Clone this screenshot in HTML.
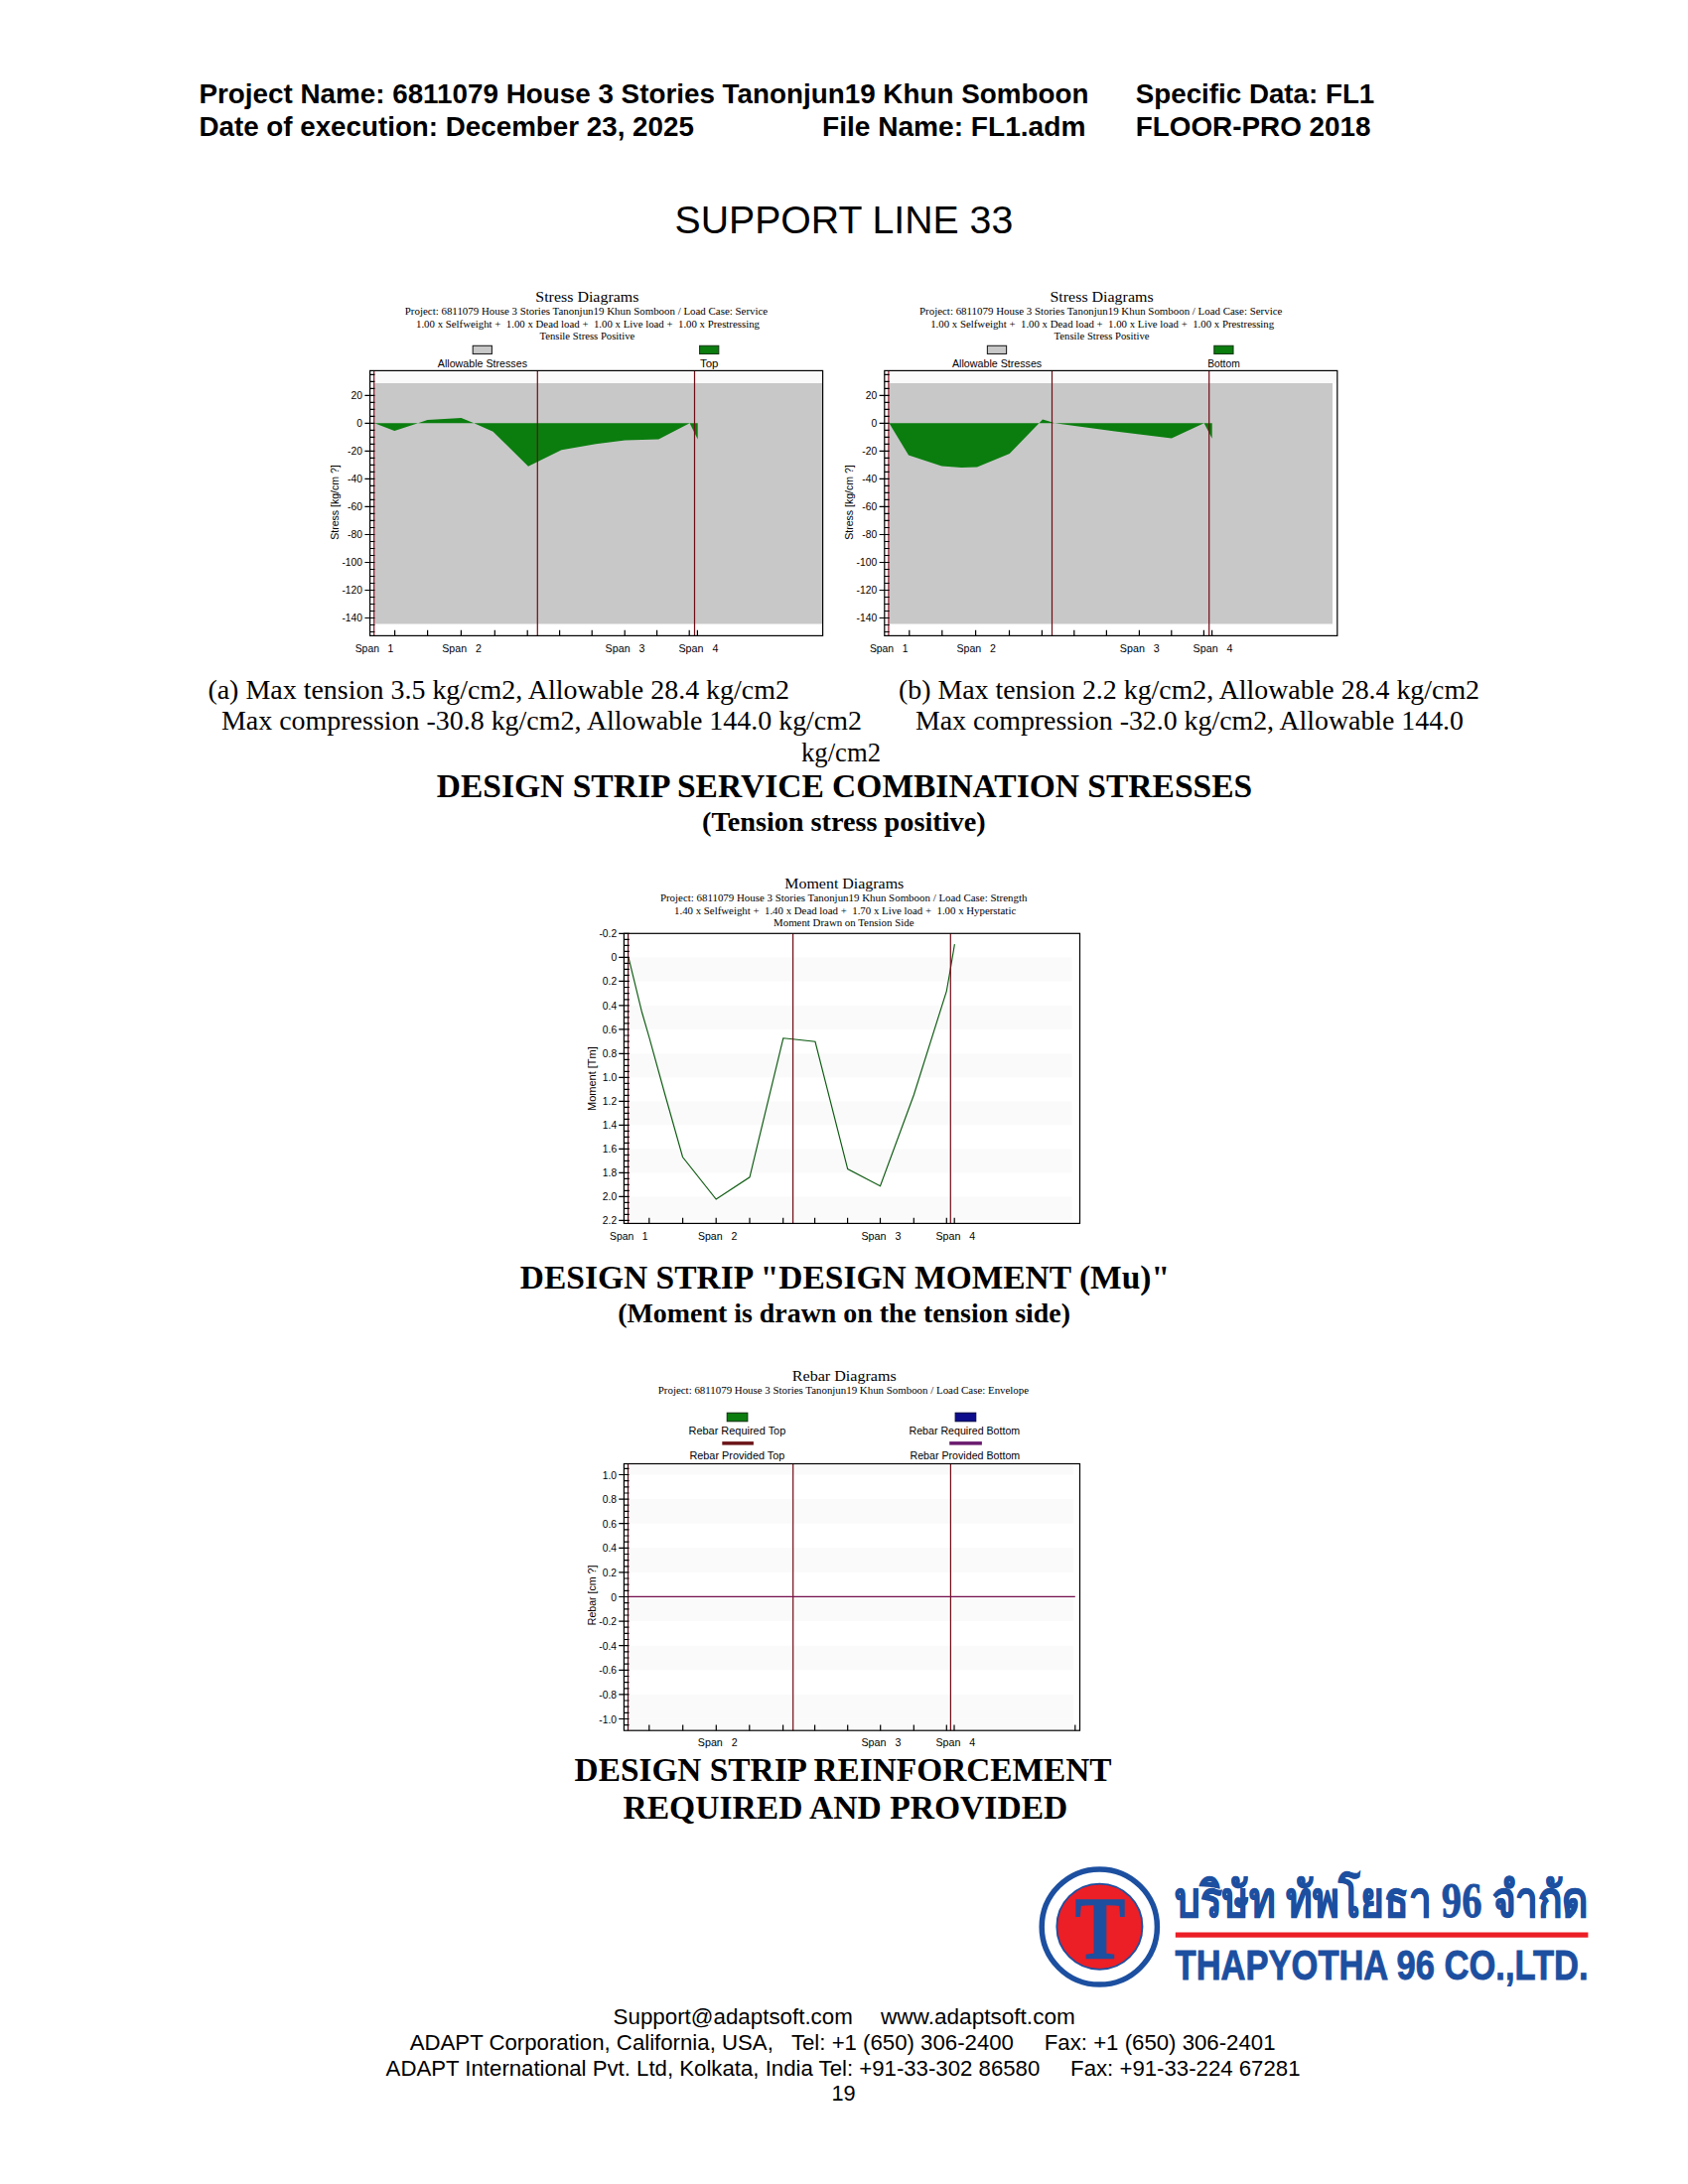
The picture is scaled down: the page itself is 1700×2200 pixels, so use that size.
<!DOCTYPE html>
<html lang="en">
<head>
<meta charset="utf-8">
<title>SUPPORT LINE 33 - FLOOR-PRO 2018 report page 19</title>
<style>
html,body{margin:0;padding:0;background:#fff;}
body{width:1700px;height:2200px;overflow:hidden;position:relative;}
svg{display:block;position:absolute;left:0;top:0;}
text{white-space:pre;}

.s{font-family:"Liberation Sans", Arial, Helvetica, sans-serif;}
.r{font-family:"Liberation Serif", "Times New Roman", Times, serif;}
.th{font-family:"Liberation Serif","Noto Serif CJK SC",serif;}
</style>
</head>
<body>
<svg width="1700" height="2200" viewBox="0 0 1700 2200">
<rect width="1700" height="2200" fill="#fff"/>
<g id="header">
<text class="s" x="200.4" y="104.4" font-size="27.6" font-weight="bold" textLength="896.0" lengthAdjust="spacingAndGlyphs" xml:space="preserve">Project Name: 6811079 House 3 Stories Tanonjun19 Khun Somboon</text>
<text class="s" x="1143.8" y="104.4" font-size="27.6" font-weight="bold" textLength="240.5" lengthAdjust="spacingAndGlyphs" xml:space="preserve">Specific Data: FL1</text>
<text class="s" x="200.4" y="136.7" font-size="27.6" font-weight="bold" textLength="498.5" lengthAdjust="spacingAndGlyphs" xml:space="preserve">Date of execution: December 23, 2025</text>
<text class="s" x="828.0" y="136.7" font-size="27.6" font-weight="bold" textLength="265.4" lengthAdjust="spacingAndGlyphs" xml:space="preserve">File Name: FL1.adm</text>
<text class="s" x="1143.8" y="136.7" font-size="27.6" font-weight="bold" textLength="236.7" lengthAdjust="spacingAndGlyphs" xml:space="preserve">FLOOR-PRO 2018</text>
<text class="s" x="679.6" y="235.2" font-size="38.7" textLength="340.6" lengthAdjust="spacingAndGlyphs" xml:space="preserve">SUPPORT LINE 33</text>
</g>
<g id="stress0">
<text class="r" x="539.3" y="303.5" font-size="15.5" textLength="104.1" lengthAdjust="spacingAndGlyphs" xml:space="preserve">Stress Diagrams</text>
<text class="r" x="407.8" y="317.0" font-size="11.2" textLength="365.4" lengthAdjust="spacingAndGlyphs" xml:space="preserve">Project: 6811079 House 3 Stories Tanonjun19 Khun Somboon / Load Case: Service</text>
<text class="r" x="419.0" y="330.0" font-size="11.2" textLength="346.0" lengthAdjust="spacingAndGlyphs" xml:space="preserve">1.00 x Selfweight +  1.00 x Dead load +  1.00 x Live load +  1.00 x Prestressing</text>
<text class="r" x="543.4" y="341.9" font-size="11.2" textLength="95.9" lengthAdjust="spacingAndGlyphs" xml:space="preserve">Tensile Stress Positive</text>
<rect x="476.2" y="348.3" width="19.2" height="8.2" fill="#c8c8c8" stroke="#222" stroke-width="1.1"/>
<text class="s" x="440.8" y="369.6" font-size="10.4" textLength="90.2" lengthAdjust="spacingAndGlyphs" xml:space="preserve">Allowable Stresses</text>
<rect x="704.6" y="348.3" width="19.2" height="8.2" fill="#0a7d0e" stroke="#143c14" stroke-width="1.1"/>
<text class="s" x="705.0" y="369.6" font-size="10.4" textLength="18.5" lengthAdjust="spacingAndGlyphs" xml:space="preserve">Top</text>
<rect x="372.6" y="373.4" width="456.0" height="267.0" fill="#fff"/>
<rect x="376.7" y="373.4" width="451.9" height="12.6" fill="#fafafa"/>
<rect x="376.7" y="386.0" width="451.9" height="242.5" fill="#c8c8c8"/>
<polygon points="377.1,426.3 397.3,434.0 421.0,426.3 430.5,422.9 464.5,420.9 477.3,426.3 496.5,434.7 532.0,469.8 565.5,453.2 600.0,447.2 629.5,443.6 663.3,442.6 694.6,426.3 702.7,442.5 702.7,426.3" fill="#0a7d0e"/>
<line x1="541.3" y1="373.4" x2="541.3" y2="640.4" stroke="#700c16" stroke-width="1.2"/>
<line x1="699.5" y1="373.4" x2="699.5" y2="640.4" stroke="#700c16" stroke-width="1.2"/>
<line x1="376.7" y1="373.4" x2="376.7" y2="640.4" stroke="#8a1224" stroke-width="1.2"/>
<path d="M372.6 377.4H377.4M372.6 384.4H377.4M372.6 391.4H377.4M367.4 398.4H377.4M372.6 405.4H377.4M372.6 412.4H377.4M372.6 419.4H377.4M367.4 426.4H377.4M372.6 433.4H377.4M372.6 440.4H377.4M372.6 447.4H377.4M367.4 454.4H377.4M372.6 461.4H377.4M372.6 468.4H377.4M372.6 475.4H377.4M367.4 482.4H377.4M372.6 489.4H377.4M372.6 496.4H377.4M372.6 503.4H377.4M367.4 510.4H377.4M372.6 517.4H377.4M372.6 524.4H377.4M372.6 531.5H377.4M367.4 538.5H377.4M372.6 545.5H377.4M372.6 552.5H377.4M372.6 559.5H377.4M367.4 566.5H377.4M372.6 573.5H377.4M372.6 580.5H377.4M372.6 587.5H377.4M367.4 594.5H377.4M372.6 601.5H377.4M372.6 608.5H377.4M372.6 615.5H377.4M367.4 622.5H377.4M372.6 629.5H377.4M372.6 636.5H377.4" stroke="#000" stroke-width="1.2" fill="none"/>
<path d="M397.6 640.4V634.8M430.6 640.4V634.8M464.4 640.4V634.8M498.3 640.4V634.8M531.2 640.4V634.8M563.6 640.4V634.8M596.2 640.4V634.8M629.2 640.4V634.8M661.6 640.4V634.8M694.2 640.4V634.8M702.4 640.4V634.8" stroke="#000" stroke-width="1.2" fill="none"/>
<rect x="372.6" y="373.4" width="456.0" height="267.0" fill="none" stroke="#000" stroke-width="1.2"/>
<text class="s" x="365.0" y="402.2" font-size="10.3" text-anchor="end" xml:space="preserve">20</text>
<text class="s" x="365.0" y="430.2" font-size="10.3" text-anchor="end" xml:space="preserve">0</text>
<text class="s" x="365.0" y="458.2" font-size="10.3" text-anchor="end" xml:space="preserve">-20</text>
<text class="s" x="365.0" y="486.2" font-size="10.3" text-anchor="end" xml:space="preserve">-40</text>
<text class="s" x="365.0" y="514.2" font-size="10.3" text-anchor="end" xml:space="preserve">-60</text>
<text class="s" x="365.0" y="542.3" font-size="10.3" text-anchor="end" xml:space="preserve">-80</text>
<text class="s" x="365.0" y="570.3" font-size="10.3" text-anchor="end" xml:space="preserve">-100</text>
<text class="s" x="365.0" y="598.3" font-size="10.3" text-anchor="end" xml:space="preserve">-120</text>
<text class="s" x="365.0" y="626.3" font-size="10.3" text-anchor="end" xml:space="preserve">-140</text>
<text class="s" x="340.9" y="543.8" font-size="10.3" textLength="75.6" lengthAdjust="spacingAndGlyphs" transform="rotate(-90 340.9 543.8)" xml:space="preserve">Stress [kg/cm ?]</text>
<text class="s" x="357.7" y="656.9" font-size="10.3" textLength="38.7" lengthAdjust="spacingAndGlyphs" xml:space="preserve">Span   1</text>
<text class="s" x="445.3" y="656.9" font-size="10.3" textLength="39.5" lengthAdjust="spacingAndGlyphs" xml:space="preserve">Span   2</text>
<text class="s" x="609.6" y="656.9" font-size="10.3" textLength="40.0" lengthAdjust="spacingAndGlyphs" xml:space="preserve">Span   3</text>
<text class="s" x="683.4" y="656.9" font-size="10.3" textLength="40.0" lengthAdjust="spacingAndGlyphs" xml:space="preserve">Span   4</text>
</g>
<g id="stress518">
<text class="r" x="1057.5" y="303.5" font-size="15.5" textLength="104.1" lengthAdjust="spacingAndGlyphs" xml:space="preserve">Stress Diagrams</text>
<text class="r" x="926.0" y="317.0" font-size="11.2" textLength="365.4" lengthAdjust="spacingAndGlyphs" xml:space="preserve">Project: 6811079 House 3 Stories Tanonjun19 Khun Somboon / Load Case: Service</text>
<text class="r" x="937.2" y="330.0" font-size="11.2" textLength="346.0" lengthAdjust="spacingAndGlyphs" xml:space="preserve">1.00 x Selfweight +  1.00 x Dead load +  1.00 x Live load +  1.00 x Prestressing</text>
<text class="r" x="1061.6" y="341.9" font-size="11.2" textLength="95.9" lengthAdjust="spacingAndGlyphs" xml:space="preserve">Tensile Stress Positive</text>
<rect x="994.4" y="348.3" width="19.2" height="8.2" fill="#c8c8c8" stroke="#222" stroke-width="1.1"/>
<text class="s" x="959.0" y="369.6" font-size="10.4" textLength="90.2" lengthAdjust="spacingAndGlyphs" xml:space="preserve">Allowable Stresses</text>
<rect x="1222.8" y="348.3" width="19.2" height="8.2" fill="#0a7d0e" stroke="#143c14" stroke-width="1.1"/>
<text class="s" x="1216.2" y="369.6" font-size="10.4" textLength="32.5" lengthAdjust="spacingAndGlyphs" xml:space="preserve">Bottom</text>
<rect x="890.8" y="373.4" width="456.0" height="267.0" fill="#fff"/>
<rect x="894.9" y="373.4" width="451.9" height="12.6" fill="#fafafa"/>
<rect x="894.9" y="386.0" width="447.1" height="242.5" fill="#c8c8c8"/>
<polygon points="895.5,426.3 915.0,458.4 948.4,469.5 968.3,470.9 984.0,470.6 1016.7,457.1 1046.5,426.3 1050.0,422.6 1059.3,425.2 1062.0,426.3 1123.0,434.5 1179.9,441.5 1212.6,426.3 1220.7,441.8 1220.7,426.3" fill="#0a7d0e"/>
<line x1="1059.5" y1="373.4" x2="1059.5" y2="640.4" stroke="#700c16" stroke-width="1.2"/>
<line x1="1217.7" y1="373.4" x2="1217.7" y2="640.4" stroke="#700c16" stroke-width="1.2"/>
<line x1="894.9" y1="373.4" x2="894.9" y2="640.4" stroke="#8a1224" stroke-width="1.2"/>
<path d="M890.8 377.4H895.6M890.8 384.4H895.6M890.8 391.4H895.6M885.6 398.4H895.6M890.8 405.4H895.6M890.8 412.4H895.6M890.8 419.4H895.6M885.6 426.4H895.6M890.8 433.4H895.6M890.8 440.4H895.6M890.8 447.4H895.6M885.6 454.4H895.6M890.8 461.4H895.6M890.8 468.4H895.6M890.8 475.4H895.6M885.6 482.4H895.6M890.8 489.4H895.6M890.8 496.4H895.6M890.8 503.4H895.6M885.6 510.4H895.6M890.8 517.4H895.6M890.8 524.4H895.6M890.8 531.5H895.6M885.6 538.5H895.6M890.8 545.5H895.6M890.8 552.5H895.6M890.8 559.5H895.6M885.6 566.5H895.6M890.8 573.5H895.6M890.8 580.5H895.6M890.8 587.5H895.6M885.6 594.5H895.6M890.8 601.5H895.6M890.8 608.5H895.6M890.8 615.5H895.6M885.6 622.5H895.6M890.8 629.5H895.6M890.8 636.5H895.6" stroke="#000" stroke-width="1.2" fill="none"/>
<path d="M915.8 640.4V634.8M948.8 640.4V634.8M982.6 640.4V634.8M1016.5 640.4V634.8M1049.4 640.4V634.8M1081.8 640.4V634.8M1114.4 640.4V634.8M1147.4 640.4V634.8M1179.8 640.4V634.8M1212.4 640.4V634.8M1220.6 640.4V634.8" stroke="#000" stroke-width="1.2" fill="none"/>
<rect x="890.8" y="373.4" width="456.0" height="267.0" fill="none" stroke="#000" stroke-width="1.2"/>
<text class="s" x="883.2" y="402.2" font-size="10.3" text-anchor="end" xml:space="preserve">20</text>
<text class="s" x="883.2" y="430.2" font-size="10.3" text-anchor="end" xml:space="preserve">0</text>
<text class="s" x="883.2" y="458.2" font-size="10.3" text-anchor="end" xml:space="preserve">-20</text>
<text class="s" x="883.2" y="486.2" font-size="10.3" text-anchor="end" xml:space="preserve">-40</text>
<text class="s" x="883.2" y="514.2" font-size="10.3" text-anchor="end" xml:space="preserve">-60</text>
<text class="s" x="883.2" y="542.3" font-size="10.3" text-anchor="end" xml:space="preserve">-80</text>
<text class="s" x="883.2" y="570.3" font-size="10.3" text-anchor="end" xml:space="preserve">-100</text>
<text class="s" x="883.2" y="598.3" font-size="10.3" text-anchor="end" xml:space="preserve">-120</text>
<text class="s" x="883.2" y="626.3" font-size="10.3" text-anchor="end" xml:space="preserve">-140</text>
<text class="s" x="859.1" y="543.8" font-size="10.3" textLength="75.6" lengthAdjust="spacingAndGlyphs" transform="rotate(-90 859.1 543.8)" xml:space="preserve">Stress [kg/cm ?]</text>
<text class="s" x="875.9" y="656.9" font-size="10.3" textLength="38.7" lengthAdjust="spacingAndGlyphs" xml:space="preserve">Span   1</text>
<text class="s" x="963.5" y="656.9" font-size="10.3" textLength="39.5" lengthAdjust="spacingAndGlyphs" xml:space="preserve">Span   2</text>
<text class="s" x="1127.8" y="656.9" font-size="10.3" textLength="40.0" lengthAdjust="spacingAndGlyphs" xml:space="preserve">Span   3</text>
<text class="s" x="1201.6" y="656.9" font-size="10.3" textLength="40.0" lengthAdjust="spacingAndGlyphs" xml:space="preserve">Span   4</text>
</g>
<g id="captions">
<text class="r" x="209.4" y="703.5" font-size="27.78" textLength="585.6" lengthAdjust="spacingAndGlyphs" xml:space="preserve">(a) Max tension 3.5 kg/cm2, Allowable 28.4 kg/cm2</text>
<text class="r" x="223.0" y="735.0" font-size="27.78" textLength="645.0" lengthAdjust="spacingAndGlyphs" xml:space="preserve">Max compression -30.8 kg/cm2, Allowable 144.0 kg/cm2</text>
<text class="r" x="807.0" y="767.0" font-size="27.78" textLength="80.0" lengthAdjust="spacingAndGlyphs" xml:space="preserve">kg/cm2</text>
<text class="r" x="905.0" y="703.5" font-size="27.78" textLength="585.0" lengthAdjust="spacingAndGlyphs" xml:space="preserve">(b) Max tension 2.2 kg/cm2, Allowable 28.4 kg/cm2</text>
<text class="r" x="922.0" y="735.0" font-size="27.78" textLength="552.0" lengthAdjust="spacingAndGlyphs" xml:space="preserve">Max compression -32.0 kg/cm2, Allowable 144.0</text>
<text class="r" x="439.8" y="803.2" font-size="33.33" font-weight="bold" textLength="821.4" lengthAdjust="spacingAndGlyphs" xml:space="preserve">DESIGN STRIP SERVICE COMBINATION STRESSES</text>
<text class="r" x="707.0" y="836.6" font-size="27.78" font-weight="bold" textLength="285.6" lengthAdjust="spacingAndGlyphs" xml:space="preserve">(Tension stress positive)</text>
<text class="r" x="523.8" y="1298.2" font-size="33.33" font-weight="bold" textLength="654.2" lengthAdjust="spacingAndGlyphs" xml:space="preserve">DESIGN STRIP "DESIGN MOMENT (Mu)"</text>
<text class="r" x="622.2" y="1331.7" font-size="27.78" font-weight="bold" textLength="455.8" lengthAdjust="spacingAndGlyphs" xml:space="preserve">(Moment is drawn on the tension side)</text>
<text class="r" x="578.6" y="1794.0" font-size="33.33" font-weight="bold" textLength="541.0" lengthAdjust="spacingAndGlyphs" xml:space="preserve">DESIGN STRIP REINFORCEMENT</text>
<text class="r" x="627.4" y="1832.1" font-size="33.33" font-weight="bold" textLength="448.0" lengthAdjust="spacingAndGlyphs" xml:space="preserve">REQUIRED AND PROVIDED</text>
</g>
<g id="moment">
<text class="r" x="790.3" y="895.0" font-size="15.5" textLength="120.0" lengthAdjust="spacingAndGlyphs" xml:space="preserve">Moment Diagrams</text>
<text class="r" x="664.9" y="908.4" font-size="11.2" textLength="369.5" lengthAdjust="spacingAndGlyphs" xml:space="preserve">Project: 6811079 House 3 Stories Tanonjun19 Khun Somboon / Load Case: Strength</text>
<text class="r" x="679.0" y="921.2" font-size="11.2" textLength="344.2" lengthAdjust="spacingAndGlyphs" xml:space="preserve">1.40 x Selfweight +  1.40 x Dead load +  1.70 x Live load +  1.00 x Hyperstatic</text>
<text class="r" x="779.1" y="933.3" font-size="11.2" textLength="141.4" lengthAdjust="spacingAndGlyphs" xml:space="preserve">Moment Drawn on Tension Side</text>
<rect x="628.4" y="940.3" width="459.1" height="292.1" fill="#fff"/>
<rect x="632.6" y="964.4" width="446.9" height="24.0" fill="#fafafa"/>
<rect x="632.6" y="1012.9" width="446.9" height="24.0" fill="#fafafa"/>
<rect x="632.6" y="1061.4" width="446.9" height="24.0" fill="#fafafa"/>
<rect x="632.6" y="1109.4" width="446.9" height="24.0" fill="#fafafa"/>
<rect x="632.6" y="1157.4" width="446.9" height="24.0" fill="#fafafa"/>
<rect x="632.6" y="1205.4" width="446.9" height="24.0" fill="#fafafa"/>
<rect x="632.6" y="1229.4" width="446.9" height="3.0" fill="#fff"/>
<polyline points="633.0,964.4 646.3,1019.0 653.8,1044.8 670.0,1103.5 687.5,1165.5 721.2,1208.0 755.0,1185.8 788.8,1045.8 798.5,1046.8 821.0,1049.3 853.7,1177.6 886.5,1194.8 920.3,1103.0 953.3,998.3 957.3,975.5 961.4,951.2" fill="none" stroke="#0c5a10" stroke-width="1.15"/>
<line x1="798.6" y1="940.3" x2="798.6" y2="1232.4" stroke="#700c16" stroke-width="1.2"/>
<line x1="957.3" y1="940.3" x2="957.3" y2="1232.4" stroke="#700c16" stroke-width="1.2"/>
<line x1="632.6" y1="940.3" x2="632.6" y2="1232.4" stroke="#5e0a18" stroke-width="1.2"/>
<path d="M623.2 940.3H633.8M628.4 946.3H633.8M628.4 952.3H633.8M628.4 958.4H633.8M623.2 964.4H633.8M628.4 970.4H633.8M628.4 976.4H633.8M628.4 982.4H633.8M623.2 988.4H633.8M628.4 994.5H633.8M628.4 1000.6H633.8M628.4 1006.8H633.8M623.2 1012.9H633.8M628.4 1018.9H633.8M628.4 1024.9H633.8M628.4 1030.9H633.8M623.2 1036.9H633.8M628.4 1043.0H633.8M628.4 1049.2H633.8M628.4 1055.3H633.8M623.2 1061.4H633.8M628.4 1067.4H633.8M628.4 1073.4H633.8M628.4 1079.4H633.8M623.2 1085.4H633.8M628.4 1091.4H633.8M628.4 1097.4H633.8M628.4 1103.4H633.8M623.2 1109.4H633.8M628.4 1115.4H633.8M628.4 1121.4H633.8M628.4 1127.4H633.8M623.2 1133.4H633.8M628.4 1139.4H633.8M628.4 1145.4H633.8M628.4 1151.4H633.8M623.2 1157.4H633.8M628.4 1163.4H633.8M628.4 1169.4H633.8M628.4 1175.4H633.8M623.2 1181.4H633.8M628.4 1187.4H633.8M628.4 1193.4H633.8M628.4 1199.4H633.8M623.2 1205.4H633.8M628.4 1211.4H633.8M628.4 1217.4H633.8M628.4 1223.4H633.8M623.2 1229.4H633.8" stroke="#000" stroke-width="1.2" fill="none"/>
<path d="M653.8 1232.4V1226.8M687.6 1232.4V1226.8M721.2 1232.4V1226.8M755.0 1232.4V1226.8M788.7 1232.4V1226.8M820.6 1232.4V1226.8M853.6 1232.4V1226.8M886.5 1232.4V1226.8M920.3 1232.4V1226.8M953.3 1232.4V1226.8M961.2 1232.4V1226.8" stroke="#000" stroke-width="1.2" fill="none"/>
<rect x="628.4" y="940.3" width="459.1" height="292.1" fill="none" stroke="#000" stroke-width="1.2"/>
<text class="s" x="621.2" y="944.1" font-size="10.3" text-anchor="end" xml:space="preserve">-0.2</text>
<text class="s" x="621.2" y="968.2" font-size="10.3" text-anchor="end" xml:space="preserve">0</text>
<text class="s" x="621.2" y="992.2" font-size="10.3" text-anchor="end" xml:space="preserve">0.2</text>
<text class="s" x="621.2" y="1016.7" font-size="10.3" text-anchor="end" xml:space="preserve">0.4</text>
<text class="s" x="621.2" y="1040.7" font-size="10.3" text-anchor="end" xml:space="preserve">0.6</text>
<text class="s" x="621.2" y="1065.2" font-size="10.3" text-anchor="end" xml:space="preserve">0.8</text>
<text class="s" x="621.2" y="1089.2" font-size="10.3" text-anchor="end" xml:space="preserve">1.0</text>
<text class="s" x="621.2" y="1113.2" font-size="10.3" text-anchor="end" xml:space="preserve">1.2</text>
<text class="s" x="621.2" y="1137.2" font-size="10.3" text-anchor="end" xml:space="preserve">1.4</text>
<text class="s" x="621.2" y="1161.2" font-size="10.3" text-anchor="end" xml:space="preserve">1.6</text>
<text class="s" x="621.2" y="1185.2" font-size="10.3" text-anchor="end" xml:space="preserve">1.8</text>
<text class="s" x="621.2" y="1209.2" font-size="10.3" text-anchor="end" xml:space="preserve">2.0</text>
<text class="s" x="621.2" y="1233.2" font-size="10.3" text-anchor="end" xml:space="preserve">2.2</text>
<text class="s" x="600.2" y="1118.9" font-size="10.3" textLength="64.7" lengthAdjust="spacingAndGlyphs" transform="rotate(-90 600.2 1118.9)" xml:space="preserve">Moment [Tm]</text>
<text class="s" x="614.0" y="1248.6" font-size="10.3" textLength="38.5" lengthAdjust="spacingAndGlyphs" xml:space="preserve">Span   1</text>
<text class="s" x="702.9" y="1248.6" font-size="10.3" textLength="39.4" lengthAdjust="spacingAndGlyphs" xml:space="preserve">Span   2</text>
<text class="s" x="867.4" y="1248.6" font-size="10.3" textLength="40.0" lengthAdjust="spacingAndGlyphs" xml:space="preserve">Span   3</text>
<text class="s" x="942.5" y="1248.6" font-size="10.3" textLength="39.7" lengthAdjust="spacingAndGlyphs" xml:space="preserve">Span   4</text>
</g>
<g id="rebar">
<text class="r" x="797.8" y="1391.0" font-size="15.5" textLength="104.9" lengthAdjust="spacingAndGlyphs" xml:space="preserve">Rebar Diagrams</text>
<text class="r" x="662.8" y="1404.1" font-size="11.2" textLength="373.3" lengthAdjust="spacingAndGlyphs" xml:space="preserve">Project: 6811079 House 3 Stories Tanonjun19 Khun Somboon / Load Case: Envelope</text>
<rect x="732.3" y="1423.3" width="20.5" height="8.4" fill="#0a7d0e" stroke="#143c14" stroke-width="1.2"/>
<text class="s" x="693.5" y="1445.0" font-size="10.4" textLength="97.8" lengthAdjust="spacingAndGlyphs" xml:space="preserve">Rebar Required Top</text>
<rect x="727.3" y="1452.1" width="31.6" height="3.5" fill="#6b1418"/>
<text class="s" x="694.4" y="1469.9" font-size="10.4" textLength="96.0" lengthAdjust="spacingAndGlyphs" xml:space="preserve">Rebar Provided Top</text>
<rect x="962.2" y="1423.3" width="20.5" height="8.4" fill="#0c0c8c" stroke="#0a0a50" stroke-width="1.2"/>
<text class="s" x="915.5" y="1445.0" font-size="10.4" textLength="111.7" lengthAdjust="spacingAndGlyphs" xml:space="preserve">Rebar Required Bottom</text>
<rect x="956.2" y="1452.1" width="32.7" height="3.5" fill="#6a1a6e"/>
<text class="s" x="916.5" y="1469.9" font-size="10.4" textLength="110.7" lengthAdjust="spacingAndGlyphs" xml:space="preserve">Rebar Provided Bottom</text>
<rect x="628.4" y="1474.5" width="459.1" height="268.7" fill="#fff"/>
<rect x="632.5" y="1476.0" width="448.5" height="9.5" fill="#fafafa"/>
<rect x="632.5" y="1510.1" width="448.5" height="24.6" fill="#fafafa"/>
<rect x="632.5" y="1559.3" width="448.5" height="24.6" fill="#fafafa"/>
<rect x="632.5" y="1608.5" width="448.5" height="24.6" fill="#fafafa"/>
<rect x="632.5" y="1657.7" width="448.5" height="24.6" fill="#fafafa"/>
<rect x="632.5" y="1706.9" width="448.5" height="24.6" fill="#fafafa"/>
<rect x="632.5" y="1731.5" width="448.5" height="11.7" fill="#fafafa"/>
<line x1="798.7" y1="1474.5" x2="798.7" y2="1743.2" stroke="#700c16" stroke-width="1.2"/>
<line x1="957.4" y1="1474.5" x2="957.4" y2="1743.2" stroke="#700c16" stroke-width="1.2"/>
<line x1="632.5" y1="1474.5" x2="632.5" y2="1743.2" stroke="#5e0a18" stroke-width="1.2"/>
<line x1="632.5" y1="1608.4" x2="1082.8" y2="1608.4" stroke="#74104e" stroke-width="1.3"/>
<path d="M628.4 1479.3H633.5M623.2 1485.5H633.5M628.4 1491.7H633.5M628.4 1497.8H633.5M628.4 1504.0H633.5M623.2 1510.1H633.5M628.4 1516.2H633.5M628.4 1522.4H633.5M628.4 1528.5H633.5M623.2 1534.7H633.5M628.4 1540.8H633.5M628.4 1547.0H633.5M628.4 1553.2H633.5M623.2 1559.3H633.5M628.4 1565.5H633.5M628.4 1571.6H633.5M628.4 1577.8H633.5M623.2 1583.9H633.5M628.4 1590.0H633.5M628.4 1596.2H633.5M628.4 1602.3H633.5M623.2 1608.5H633.5M628.4 1614.7H633.5M628.4 1620.8H633.5M628.4 1627.0H633.5M623.2 1633.1H633.5M628.4 1639.2H633.5M628.4 1645.4H633.5M628.4 1651.5H633.5M623.2 1657.7H633.5M628.4 1663.8H633.5M628.4 1670.0H633.5M628.4 1676.2H633.5M623.2 1682.3H633.5M628.4 1688.5H633.5M628.4 1694.6H633.5M628.4 1700.8H633.5M623.2 1706.9H633.5M628.4 1713.0H633.5M628.4 1719.2H633.5M628.4 1725.3H633.5M623.2 1731.5H633.5M628.4 1737.7H633.5" stroke="#000" stroke-width="1.2" fill="none"/>
<path d="M653.8 1743.2V1737.6M687.7 1743.2V1737.6M721.3 1743.2V1737.6M754.8 1743.2V1737.6M788.6 1743.2V1737.6M820.6 1743.2V1737.6M853.7 1743.2V1737.6M886.7 1743.2V1737.6M920.3 1743.2V1737.6M953.3 1743.2V1737.6M961.0 1743.2V1737.6M1082.8 1743.2V1737.6" stroke="#000" stroke-width="1.2" fill="none"/>
<rect x="628.4" y="1474.5" width="459.1" height="268.7" fill="none" stroke="#000" stroke-width="1.2"/>
<text class="s" x="621.0" y="1489.5" font-size="10.3" text-anchor="end" xml:space="preserve">1.0</text>
<text class="s" x="621.0" y="1514.1" font-size="10.3" text-anchor="end" xml:space="preserve">0.8</text>
<text class="s" x="621.0" y="1538.7" font-size="10.3" text-anchor="end" xml:space="preserve">0.6</text>
<text class="s" x="621.0" y="1563.3" font-size="10.3" text-anchor="end" xml:space="preserve">0.4</text>
<text class="s" x="621.0" y="1587.9" font-size="10.3" text-anchor="end" xml:space="preserve">0.2</text>
<text class="s" x="621.0" y="1612.5" font-size="10.3" text-anchor="end" xml:space="preserve">0</text>
<text class="s" x="621.0" y="1637.1" font-size="10.3" text-anchor="end" xml:space="preserve">-0.2</text>
<text class="s" x="621.0" y="1661.7" font-size="10.3" text-anchor="end" xml:space="preserve">-0.4</text>
<text class="s" x="621.0" y="1686.3" font-size="10.3" text-anchor="end" xml:space="preserve">-0.6</text>
<text class="s" x="621.0" y="1710.9" font-size="10.3" text-anchor="end" xml:space="preserve">-0.8</text>
<text class="s" x="621.0" y="1735.5" font-size="10.3" text-anchor="end" xml:space="preserve">-1.0</text>
<text class="s" x="600.2" y="1637.2" font-size="10.3" textLength="60.6" lengthAdjust="spacingAndGlyphs" transform="rotate(-90 600.2 1637.2)" xml:space="preserve">Rebar [cm ?]</text>
<text class="s" x="702.8" y="1759.3" font-size="10.3" textLength="39.9" lengthAdjust="spacingAndGlyphs" xml:space="preserve">Span   2</text>
<text class="s" x="867.4" y="1759.3" font-size="10.3" textLength="40.0" lengthAdjust="spacingAndGlyphs" xml:space="preserve">Span   3</text>
<text class="s" x="942.5" y="1759.3" font-size="10.3" textLength="39.7" lengthAdjust="spacingAndGlyphs" xml:space="preserve">Span   4</text>
</g>
<g id="logo">
<circle cx="1107.3" cy="1941.0" r="58.1" fill="#fff" stroke="#1c4fa0" stroke-width="5.5"/>
<circle cx="1107.4" cy="1940.7" r="43.1" fill="#ec1e26" stroke="#1c4fa0" stroke-width="1.8"/>
<text class="r" x="1108.1" y="1972.2" font-size="88.7" font-weight="bold" text-anchor="middle" fill="#1c4fa0" stroke="#1c4fa0" stroke-width="1.3" textLength="50.5" lengthAdjust="spacingAndGlyphs">T</text>
<text class="th" x="1183.2" y="1930.6" font-size="50" font-weight="bold" fill="#1c4fa0" stroke="#1c4fa0" stroke-width="0.8" textLength="416" lengthAdjust="spacingAndGlyphs" xml:space="preserve">บริษัท ทัพโยธา 96 จำกัด</text>
<rect x="1183.8" y="1946.5" width="415.6" height="5.2" fill="#ec1e26"/>
<text class="s" x="1183.6" y="1993.6" font-size="42.3" font-weight="bold" fill="#1c4fa0" stroke="#1c4fa0" stroke-width="0.9" textLength="416" lengthAdjust="spacingAndGlyphs" xml:space="preserve">THAPYOTHA 96 CO.,LTD.</text>
</g>
<g id="footer">
<text class="s" x="617.6" y="2039.4" font-size="22.1" textLength="241.2" lengthAdjust="spacingAndGlyphs" xml:space="preserve">Support@adaptsoft.com</text>
<text class="s" x="887.0" y="2039.4" font-size="22.1" textLength="195.8" lengthAdjust="spacingAndGlyphs" xml:space="preserve">www.adaptsoft.com</text>
<text class="s" x="412.7" y="2064.6" font-size="22.1" textLength="871.8" lengthAdjust="spacingAndGlyphs" xml:space="preserve">ADAPT Corporation, California, USA,   Tel: +1 (650) 306-2400     Fax: +1 (650) 306-2401</text>
<text class="s" x="388.6" y="2090.6" font-size="22.1" textLength="920.9" lengthAdjust="spacingAndGlyphs" xml:space="preserve">ADAPT International Pvt. Ltd, Kolkata, India Tel: +91-33-302 86580     Fax: +91-33-224 67281</text>
<text class="s" x="837.4" y="2116.1" font-size="22.1" textLength="24.2" lengthAdjust="spacingAndGlyphs" xml:space="preserve">19</text>
</g>
</svg>
</body>
</html>
